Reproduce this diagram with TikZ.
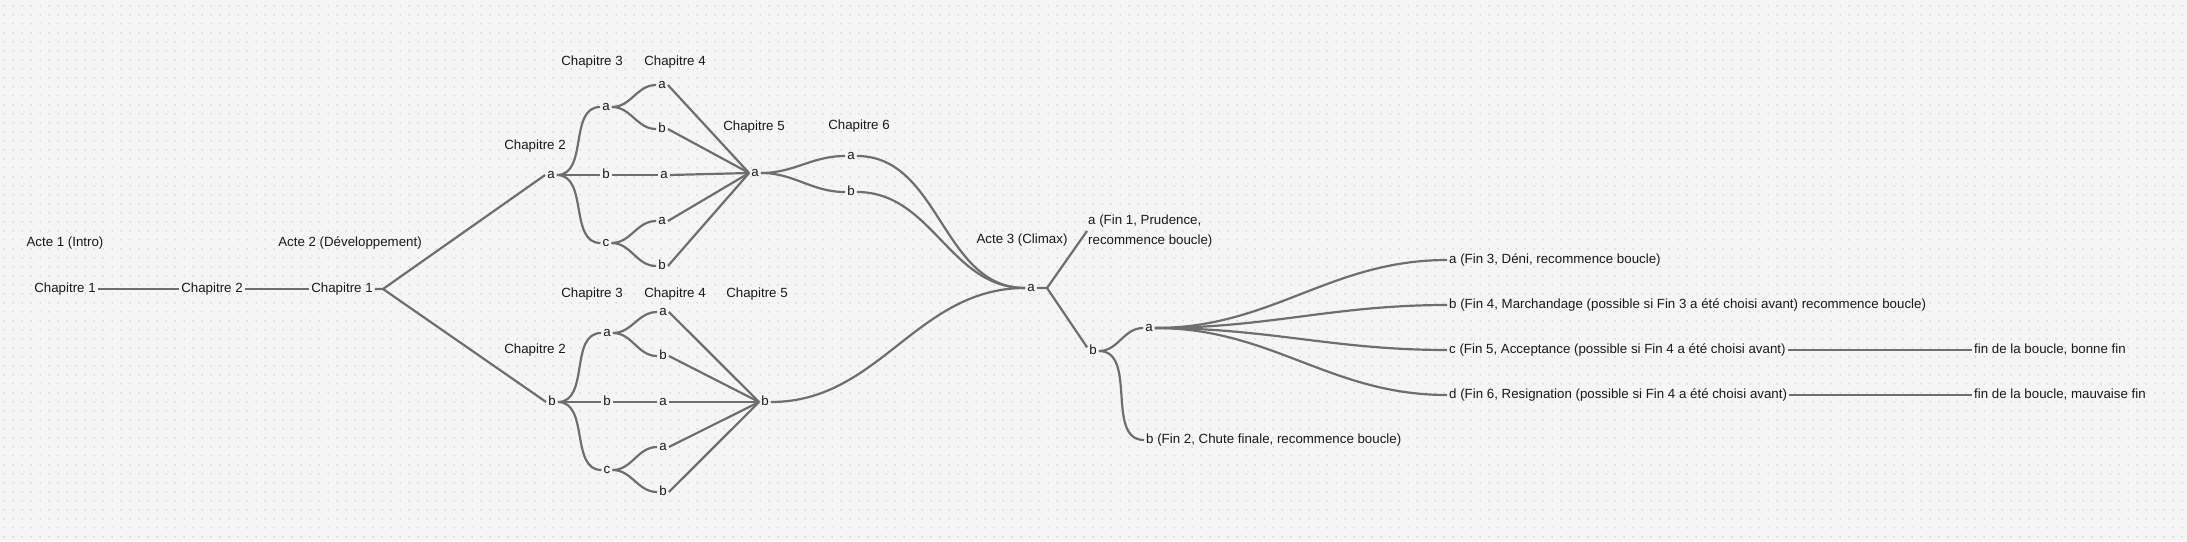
\documentclass[tikz,border=0pt]{standalone}
\usepackage{fontspec}
\setmainfont{Liberation Sans}
\usetikzlibrary{patterns}
\definecolor{bgc}{HTML}{F5F5F5}
\definecolor{dotc}{HTML}{ABABAB}
\definecolor{linec}{HTML}{6E6E6E}
\definecolor{txtc}{HTML}{1A1A1A}
\pgfdeclarepatternformonly{bgdots}{\pgfpointorigin}{\pgfpoint{8.6pt}{8.6pt}}{\pgfpoint{8.6pt}{8.6pt}}{%
  \pgfpathcircle{\pgfpoint{4.3pt}{4.3pt}}{0.65pt}\pgfusepath{fill}}
\tikzset{
  lbl/.style={font=\fontsize{13.3}{20}\selectfont, text=txtc, inner xsep=2pt, inner ysep=0pt,
    text height=6.9pt, text depth=0pt},
  lblw/.style={lbl, anchor=west},
  twoline/.style={font=\fontsize{13.3}{20}\selectfont, text=txtc, inner sep=0pt, anchor=west, align=left},
  conn/.style={draw=linec, line width=2.2pt},
  sc/.style={out=0, in=180}
}
\begin{document}
\begin{tikzpicture}[x=1pt, y=-1pt]
\useasboundingbox (0,0) rectangle (2187,541);
\fill[bgc] (0,0) rectangle (2187,541);
\fill[pattern=bgdots, pattern color=dotc] (0,0) rectangle (2187,541);

% headers
\node[lbl] (acte1) at (65,243) {Acte 1 (Intro)};
\node[lbl] (acte2) at (350,243) {Acte 2 (Développement)};
\node[lbl] (hc2u) at (535,146) {Chapitre 2};
\node[lbl] (hc3u) at (592,62) {Chapitre 3};
\node[lbl] (hc4u) at (675,62) {Chapitre 4};
\node[lbl] (hc5u) at (754,127) {Chapitre 5};
\node[lbl] (hc6) at (859,126) {Chapitre 6};
\node[lbl] (hc2l) at (535,350) {Chapitre 2};
\node[lbl] (hc3l) at (592,294) {Chapitre 3};
\node[lbl] (hc4l) at (675,294) {Chapitre 4};
\node[lbl] (hc5l) at (757,294) {Chapitre 5};
\node[lbl] (acte3) at (1022,240) {Acte 3 (Climax)};

% main chain
\node[lbl] (c1) at (65,289) {Chapitre 1};
\node[lbl] (c2) at (212,289) {Chapitre 2};
\node[lbl] (c1b) at (342,289) {Chapitre 1};
\coordinate (fork1) at (383,289);

% upper branch
\node[lbl] (ua) at (551,175) {a};
\node[lbl] (u3a) at (606,107) {a};
\node[lbl] (u3b) at (606,175) {b};
\node[lbl] (u3c) at (606,243) {c};
\node[lbl] (u4a) at (662,85) {a};
\node[lbl] (u4b) at (662,129) {b};
\node[lbl] (u4m) at (664,175) {a};
\node[lbl] (u4c) at (662,221) {a};
\node[lbl] (u4d) at (662,266) {b};
\node[lbl] (u5) at (755,173) {a};
\node[lbl] (u6a) at (851,156) {a};
\node[lbl] (u6b) at (851,192) {b};

% lower branch
\node[lbl] (lb) at (552,402) {b};
\node[lbl] (l3a) at (607,333) {a};
\node[lbl] (l3b) at (607,402) {b};
\node[lbl] (l3c) at (607,470) {c};
\node[lbl] (l4a) at (663,312) {a};
\node[lbl] (l4b) at (663,356) {b};
\node[lbl] (l4m) at (663,402) {a};
\node[lbl] (l4c) at (663,447) {a};
\node[lbl] (l4d) at (663,492) {b};
\node[lbl] (l5) at (765,402) {b};

% act 3
\node[lbl] (x3a) at (1031,288) {a};
\coordinate (fork2) at (1047,288);
\node[twoline] (fin1) at (1088,231) {a (Fin 1, Prudence,\\recommence boucle)};
\node[lbl] (x3b) at (1093,351) {b};
\node[lbl] (x4a) at (1149,328) {a};
\node[lblw] (fin2) at (1144,440) {b (Fin 2, Chute finale, recommence boucle)};
\node[lblw] (fin3) at (1447,260) {a (Fin 3, Déni, recommence boucle)};
\node[lblw] (fin4) at (1447,305) {b (Fin 4, Marchandage (possible si Fin 3 a été choisi avant) recommence boucle)};
\node[lblw] (fin5) at (1447,350) {c (Fin 5, Acceptance (possible si Fin 4 a été choisi avant)};
\node[lblw] (fin6) at (1447,395) {d (Fin 6, Resignation (possible si Fin 4 a été choisi avant)};
\node[lblw] (end5) at (1972,350) {fin de la boucle, bonne fin};
\node[lblw] (end6) at (1972,395) {fin de la boucle, mauvaise fin};

% connectors: main chain
\draw[conn] (c1.east) -- (c2.west);
\draw[conn] (c2.east) -- (c1b.west);
\draw[conn] (c1b.east) -- (fork1) -- (ua.west);
\draw[conn] (fork1) -- (lb.west);

% upper
\draw[conn] (ua.east) to[sc] (u3a.west);
\draw[conn] (ua.east) -- (u3b.west);
\draw[conn] (ua.east) to[sc] (u3c.west);
\draw[conn] (u3a.east) to[sc] (u4a.west);
\draw[conn] (u3a.east) to[sc] (u4b.west);
\draw[conn] (u3b.east) -- (u4m.west);
\draw[conn] (u3c.east) to[sc] (u4c.west);
\draw[conn] (u3c.east) to[sc] (u4d.west);
\foreach \n in {u4a,u4b,u4m,u4c,u4d} \draw[conn] (\n.east) -- (u5.west);
\draw[conn] (u5.east) to[sc] (u6a.west);
\draw[conn] (u5.east) to[sc] (u6b.west);
\draw[conn] (u6a.east) to[sc] (x3a.west);
\draw[conn] (u6b.east) to[sc] (x3a.west);

% lower
\draw[conn] (lb.east) to[sc] (l3a.west);
\draw[conn] (lb.east) -- (l3b.west);
\draw[conn] (lb.east) to[sc] (l3c.west);
\draw[conn] (l3a.east) to[sc] (l4a.west);
\draw[conn] (l3a.east) to[sc] (l4b.west);
\draw[conn] (l3b.east) -- (l4m.west);
\draw[conn] (l3c.east) to[sc] (l4c.west);
\draw[conn] (l3c.east) to[sc] (l4d.west);
\foreach \n in {l4a,l4b,l4m,l4c,l4d} \draw[conn] (\n.east) -- (l5.west);
\draw[conn] (l5.east) to[sc] (x3a.west);

% act 3
\draw[conn] (x3a.east) -- (fork2) -- ([xshift=-1pt]fin1.west);
\draw[conn] (fork2) -- (x3b.north west);
\draw[conn] (x3b.east) to[sc] (x4a.west);
\draw[conn] (x3b.east) to[sc] (fin2.west);
\foreach \n in {fin3,fin4,fin5,fin6} \draw[conn] (x4a.east) to[sc] (\n.west);
\draw[conn] (fin5.east) -- (end5.west);
\draw[conn] (fin6.east) -- (end6.west);
\end{tikzpicture}
\end{document}
